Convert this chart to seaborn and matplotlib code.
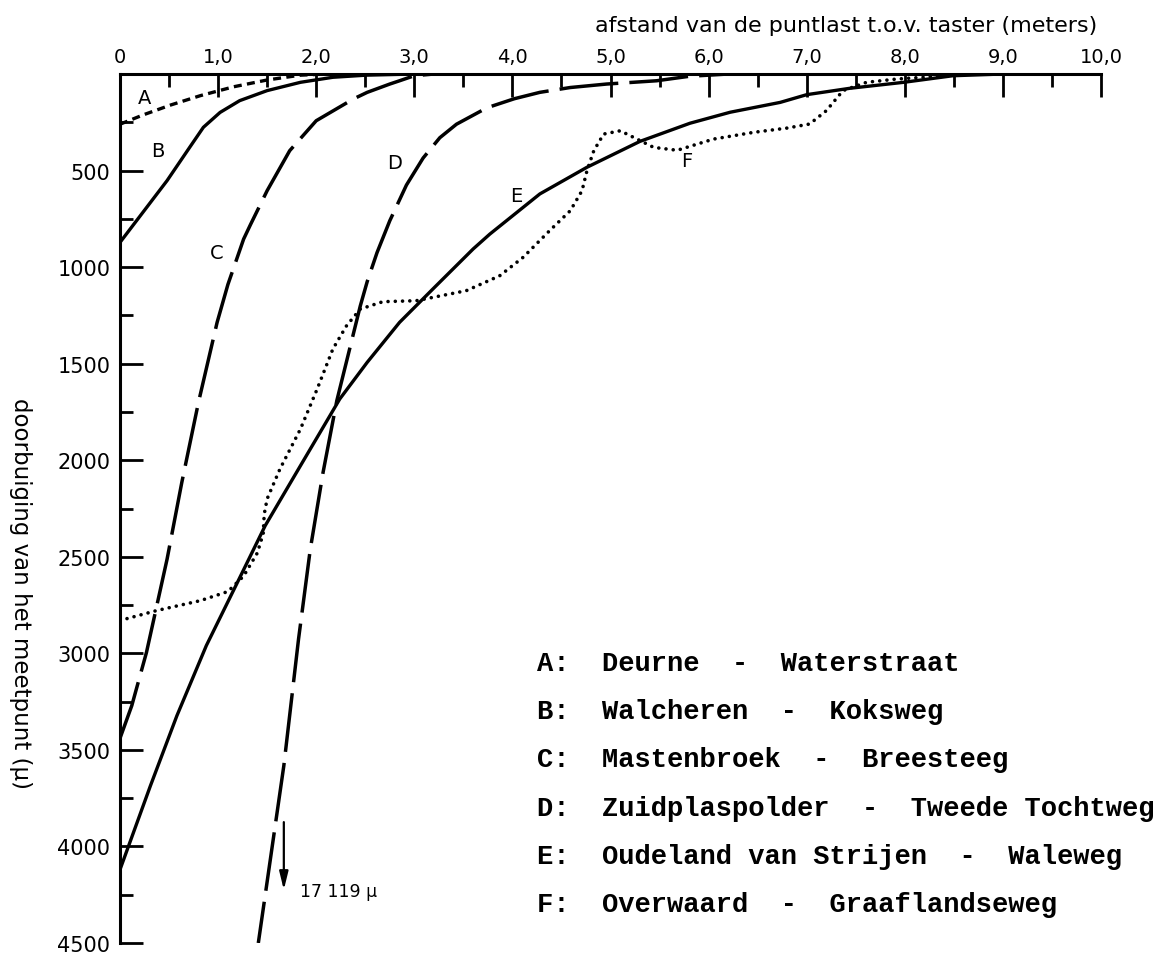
import matplotlib
matplotlib.use("Agg")
import matplotlib.pyplot as plt
import seaborn as sns
from matplotlib.ticker import FixedLocator, FixedFormatter

# ---------------- data ----------------
a_x = [0.0, 0.24, 0.52, 0.82, 1.16, 1.50, 1.84, 2.10]
a_y = [260, 211, 160, 112, 66, 31, 6, 0]

b_x = [0.0, 0.48, 0.71, 0.85, 1.02, 1.22, 1.50, 1.84, 2.17, 2.51, 3.00]
b_y = [872, 552, 380, 276, 199, 138, 86, 43, 17, 6, 0]

c_x = [0.0, 0.12, 0.27, 0.48, 0.63, 0.80, 0.99, 1.10, 1.26, 1.33, 1.50, 1.73,
       2.00, 2.38, 2.52, 2.75, 2.85, 3.00, 3.20]
c_y = [3440, 3271, 2995, 2512, 2115, 1700, 1286, 1090, 855, 780, 604, 397,
       242, 129, 95, 52, 35, 9, 0]

d_x = [1.41, 1.67, 1.82, 1.94, 2.07, 2.21, 2.45, 2.52, 2.62, 2.75, 2.92, 3.09,
       3.26, 3.43, 3.74, 4.02, 4.28, 4.59, 4.96, 5.47, 5.80, 6.20]
d_y = [4500, 3582, 2926, 2460, 2063, 1692, 1200, 1075, 925, 760, 575, 435,
       330, 260, 175, 128, 95, 70, 52, 35, 12, 0]

e_x = [0.0, 0.31, 0.58, 0.88, 1.19, 1.48, 1.84, 2.10, 2.24, 2.52, 2.85, 3.19,
       3.60, 3.77, 4.28, 4.76, 5.30, 5.81, 6.22, 6.73, 7.00, 7.44, 7.99,
       8.49, 9.00]
e_y = [4120, 3686, 3323, 2960, 2640, 2339, 2028, 1804, 1683, 1493, 1286, 1113,
       906, 829, 621, 483, 349, 255, 198, 147, 107, 74, 43, 9, 0]

f_x = [0.0, 0.37, 0.82, 1.10, 1.26, 1.40, 1.46, 1.47, 1.50, 1.63, 1.84, 2.01,
       2.17, 2.31, 2.45, 2.68, 3.02, 3.53, 3.87, 4.11, 4.38, 4.59, 4.71, 4.76,
       4.83, 4.93, 5.10, 5.27, 5.44, 5.68, 6.05, 6.46, 6.80, 7.03, 7.20, 7.37,
       7.61, 7.92, 8.19, 8.50]
f_y = [2830, 2779, 2727, 2680, 2600, 2480, 2380, 2280, 2200, 2046, 1838, 1631,
       1424, 1303, 1217, 1179, 1174, 1122, 1045, 949, 811, 708, 604, 501,
       397, 311, 294, 337, 380, 395, 337, 302, 280, 259, 190, 86,
       43, 26, 17, 0]

x_ticks = [0, 1, 2, 3, 4, 5, 6, 7, 8, 9, 10]
x_tick_labels = ["0", "1,0", "2,0", "3,0", "4,0", "5,0", "6,0", "7,0", "8,0", "9,0", "10,0"]
y_ticks = [500, 1000, 1500, 2000, 2500, 3000, 3500, 4000, 4500]
y_tick_labels = ["500", "1000", "1500", "2000", "2500", "3000", "3500", "4000", "4500"]

curve_letters = ["A", "B", "C", "D", "E", "F"]
legend_lines = [
    "A:  Deurne  -  Waterstraat",
    "B:  Walcheren  -  Koksweg",
    "C:  Mastenbroek  -  Breesteeg",
    "D:  Zuidplaspolder  -  Tweede Tochtweg",
    "E:  Oudeland van Strijen  -  Waleweg",
    "F:  Overwaard  -  Graaflandseweg",
]
x_title = "afstand van de puntlast t.o.v. taster (meters)"
y_title = "doorbuiging van het meetpunt (\u03bc)"
arrow_text = "17 119 \u03bc"

# ---------------- styling ----------------
sns.set_theme(style="white")
plt.rcParams["font.family"] = ["DejaVu Sans"]

fig = plt.figure(figsize=(11.7, 9.54), dpi=100)
ax = fig.add_axes([120 / 1170, 1 - 944 / 954, (1101 - 120) / 1170, (944 - 75) / 954])

solid = dict(color="black", lw=2.4, solid_capstyle="round")
sns.lineplot(x=a_x, y=a_y, ax=ax, sort=False, estimator=None, color="black",
             lw=2.4, linestyle=(0, (2.4, 1.6)))
sns.lineplot(x=b_x, y=b_y, ax=ax, sort=False, estimator=None, **solid)
sns.lineplot(x=c_x, y=c_y, ax=ax, sort=False, estimator=None, color="black",
             lw=2.5, linestyle=(0, (17, 3.2)))
sns.lineplot(x=d_x, y=d_y, ax=ax, sort=False, estimator=None, color="black",
             lw=2.5, linestyle=(5, (17, 3.2)))
sns.lineplot(x=e_x, y=e_y, ax=ax, sort=False, estimator=None, **solid)
sns.lineplot(x=f_x, y=f_y, ax=ax, sort=False, estimator=None, color="black",
             lw=2.6, linestyle=(0, (0.01, 2.0)), dash_capstyle="round")

ax.set_xlim(0, 10)
ax.set_ylim(4500, 0)
ax.set_xlabel("")
ax.set_ylabel("")

for side in ("right", "bottom"):
    ax.spines[side].set_visible(False)
for side in ("left", "top"):
    ax.spines[side].set_linewidth(2.2)
    ax.spines[side].set_color("black")

ax.xaxis.tick_top()
ax.xaxis.set_major_locator(FixedLocator(x_ticks))
ax.xaxis.set_major_formatter(FixedFormatter(x_tick_labels))
ax.xaxis.set_minor_locator(FixedLocator([v + 0.5 for v in x_ticks[:-1]]))
ax.yaxis.set_major_locator(FixedLocator(y_ticks))
ax.yaxis.set_major_formatter(FixedFormatter(y_tick_labels))
ax.yaxis.set_minor_locator(FixedLocator([v - 250 for v in y_ticks]))

ax.tick_params(which="major", direction="in", length=16.3, width=2.0, color="black")
ax.tick_params(which="minor", direction="in", length=9.4, width=2.0, color="black")
ax.tick_params(axis="x", which="both", top=True, bottom=False, labeltop=True,
               labelbottom=False, pad=5.5, labelsize=14, labelcolor="black")
ax.tick_params(axis="y", which="both", left=True, right=False, pad=7,
               labelsize=15, labelcolor="black")

# curve letters
letter_pos = [(0.255, 121), (0.39, 397), (0.985, 923), (2.80, 457), (4.04, 630), (5.78, 449)]
for lab, (lx, ly) in zip(curve_letters, letter_pos):
    ax.text(lx, ly, lab, ha="center", va="center", fontsize=14, color="black")

# arrow to the off-scale value of D
ax.annotate("", xy=(1.67, 4225), xytext=(1.67, 3874),
            arrowprops=dict(arrowstyle="-|>,head_length=0.9,head_width=0.22",
                            color="black", lw=1.6, shrinkA=0, shrinkB=0))
ax.text(1.835, 4231, arrow_text, ha="left", va="center", fontsize=12.5, color="black")

# legend text block (typewriter)
legend_y0 = 664
for i, line in enumerate(legend_lines):
    ypix = legend_y0 + i * 48.2
    fig.text(537 / 1170, 1 - ypix / 954, line, ha="left", va="center",
             fontsize=19.5, fontweight="bold", family=["Liberation Mono", "DejaVu Sans Mono"],
             color="black")

# axis titles
fig.text(846 / 1170, 1 - 32 / 954, x_title, ha="center", va="baseline",
         fontsize=16, color="black")
fig.text(20 / 1170, 1 - 594 / 954, y_title, ha="center", va="center",
         rotation=-90, fontsize=16.5, color="black")

fig.savefig("out.png", dpi=100)
